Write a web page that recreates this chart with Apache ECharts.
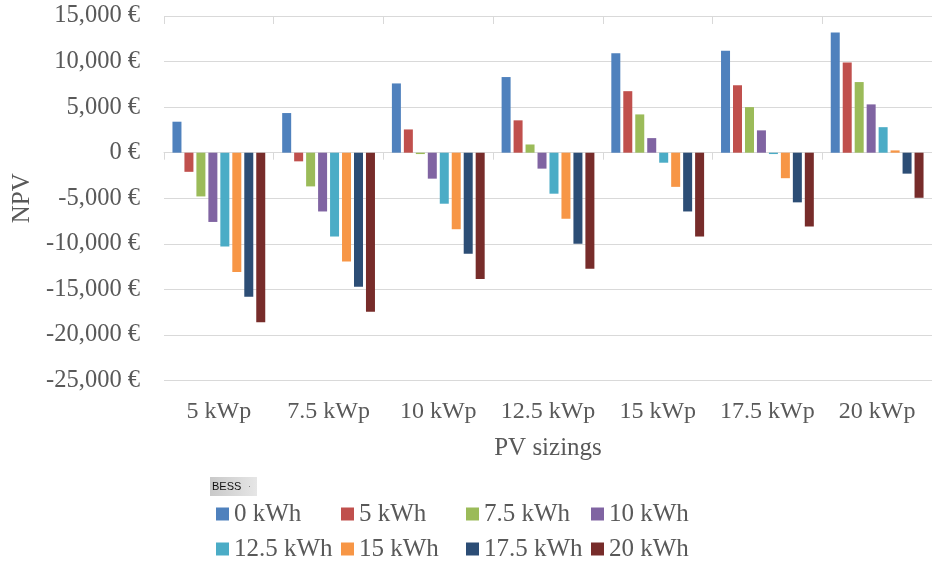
<!DOCTYPE html>
<html>
<head>
<meta charset="utf-8">
<script src="https://cdn.jsdelivr.net/npm/echarts@6/dist/echarts.min.js"></script>
<style>
  html, body { margin: 0; padding: 0; background: #ffffff; }
  #chart { width: 932px; height: 563px; }
</style>
</head>
<body>
<div id="chart"></div>
<script>
// PV system sizes (x categories)
const pvSizings = ['5 kWp', '7.5 kWp', '10 kWp', '12.5 kWp', '15 kWp', '17.5 kWp', '20 kWp'];

// Battery storage sizes (one series each)
const bessSizes = ['0 kWh', '5 kWh', '7.5 kWh', '10 kWh', '12.5 kWh', '15 kWh', '17.5 kWh', '20 kWh'];

// NPV in € for each battery size, across the PV sizings
const npv0kWh    = [3400, 4350, 7600, 8300, 10900, 11200, 13200];
const npv5kWh    = [-2100, -950, 2550, 3550, 6750, 7400, 9900];
const npv7_5kWh  = [-4800, -3700, -150, 900, 4200, 5000, 7750];
const npv10kWh   = [-7600, -6450, -2850, -1750, 1600, 2450, 5300];
const npv12_5kWh = [-10300, -9200, -5600, -4500, -1100, -150, 2800];
const npv15kWh   = [-13100, -11950, -8400, -7250, -3750, -2800, 250];
const npv17_5kWh = [-15800, -14700, -11100, -10000, -6450, -5450, -2300];
const npv20kWh   = [-18600, -17450, -13850, -12750, -9200, -8100, -4950];

// Value axis ticks
const yMin = -25000;
const yMax = 15000;
const yStep = 5000;

const seriesValues = [npv0kWh, npv5kWh, npv7_5kWh, npv10kWh, npv12_5kWh, npv15kWh, npv17_5kWh, npv20kWh];
const palette = ['#4F81BD', '#C0504D', '#9BBB59', '#8064A2', '#4BACC6', '#F79646', '#2C4D75', '#772C2A'];

const textColor = '#595959';
const gridColor = '#d9d9d9';
const serif = '"Liberation Serif", "Times New Roman", serif';

function euro(v) {
  const sign = v < 0 ? '-' : '';
  const s = Math.abs(v).toString().replace(/\B(?=(\d{3})+(?!\d))/g, ',');
  return sign + s + ' €';
}

const chart = echarts.init(document.getElementById('chart'), null, { renderer: 'canvas' });

const legendCommon = {
  orient: 'horizontal',
  left: 216,
  padding: 0,
  itemWidth: 13,
  itemHeight: 13,
  itemGap: 5,
  icon: 'rect',
  selectedMode: false,
  textStyle: {
    color: textColor,
    fontFamily: serif,
    fontSize: 25,
    width: 102,
    lineHeight: 26
  }
};

chart.setOption({
  animation: false,
  backgroundColor: '#ffffff',
  textStyle: { fontFamily: serif },
  grid: { left: 164, right: 0, top: 16, bottom: 182.5, containLabel: false, outerBoundsMode: 'none' },
  legend: [
    Object.assign({}, legendCommon, { top: 501, data: bessSizes.slice(0, 4) }),
    Object.assign({}, legendCommon, { top: 536, data: bessSizes.slice(4) })
  ],
  xAxis: [
    {
      // zero line with ticks below it
      type: 'category',
      data: pvSizings,
      axisLine: { onZero: true, lineStyle: { color: gridColor, width: 1 } },
      axisTick: { show: true, length: 7, lineStyle: { color: gridColor } },
      axisLabel: { show: false },
      splitLine: { show: false }
    },
    {
      // tick marks rising above the zero line
      type: 'category',
      data: pvSizings,
      axisLine: { onZero: true, show: false },
      axisTick: { show: true, inside: true, length: 8, lineStyle: { color: gridColor } },
      axisLabel: { show: false },
      splitLine: { show: false }
    },
    {
      // category labels and axis title at the bottom of the plot
      type: 'category',
      data: pvSizings,
      position: 'bottom',
      axisLine: { onZero: false, show: false },
      axisTick: { show: false },
      axisLabel: { color: textColor, fontFamily: serif, fontSize: 24, margin: 19, interval: 0 },
      name: 'PV sizings',
      nameLocation: 'middle',
      nameGap: 55,
      nameTextStyle: { color: textColor, fontFamily: serif, fontSize: 25 }
    }
  ],
  yAxis: {
    type: 'value',
    min: yMin,
    max: yMax,
    interval: yStep,
    axisLine: { show: false },
    axisTick: { show: false },
    axisLabel: { color: textColor, fontFamily: serif, fontSize: 24.5, margin: 24, formatter: euro },
    splitLine: { lineStyle: { color: gridColor, width: 1 } },
    name: 'NPV',
    nameLocation: 'middle',
    nameGap: 128,
    nameTextStyle: { color: textColor, fontFamily: serif, fontSize: 25 }
  },
  series: bessSizes.map((name, i) => ({
    name: name,
    type: 'bar',
    xAxisIndex: 0,
    data: seriesValues[i],
    barWidth: 9,
    barGap: '33%',
    itemStyle: { color: palette[i] }
  })),
  graphic: [
    {
      type: 'group',
      left: 210,
      top: 477,
      children: [
        {
          type: 'rect',
          shape: { x: 0, y: 0, width: 47, height: 19 },
          style: {
            fill: new echarts.graphic.LinearGradient(0, 0, 1, 0, [
              { offset: 0, color: '#c9c9c9' },
              { offset: 1, color: '#e6e6e6' }
            ])
          }
        },
        {
          type: 'text',
          x: 2,
          y: 4,
          style: { text: 'BESS', fill: '#111111', font: '11px "Liberation Sans Narrow", "Liberation Sans", Arial, sans-serif' }
        },
        {
          type: 'rect',
          shape: { x: 39, y: 9, width: 1, height: 1 },
          style: { fill: '#888888' }
        }
      ]
    }
  ]
});
</script>
</body>
</html>
